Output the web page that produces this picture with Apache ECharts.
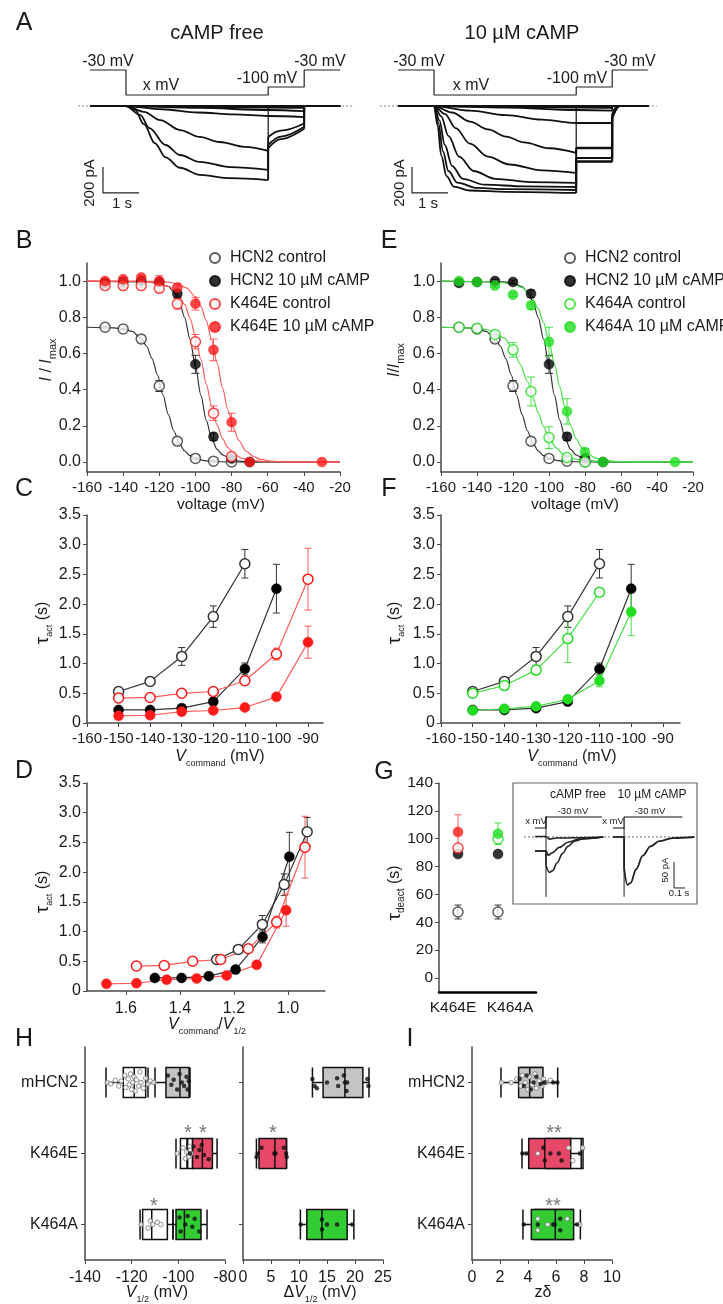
<!DOCTYPE html>
<html><head><meta charset="utf-8">
<script src="https://cdn.jsdelivr.net/npm/echarts@6/dist/echarts.min.js"></script>
<style>html,body{margin:0;padding:0;background:#fff}#c{width:723px;height:1304px}</style>
</head><body><div id="c"></div>
<script>
const FONT = 'Arial, "Liberation Sans", Helvetica, sans-serif';
const TXT = '#1a1a1a', AXC = '#4a4a4a';
const RED = '#ff1a1a', RED_L = '#ff5a5a', GREEN = '#22dd22', GREEN_L = '#44e044', BLK = '#000', BLK_L = '#333';
const BOX_RED = '#e84868', BOX_GREEN = '#33cc33', BOX_GRAY = '#c4c4c4';

// ---------- Panel A (time s, current pA) ----------
const aFreeTraces = [
  [[0,0],[1,0],[1.25,-30],[1.5,-140],[1.8,-285],[2.1,-395],[2.5,-475],[3.05,-530],[3.9,-555],[4.95,-570],[4.95,-325],[5.3,-255],[5.95,-175],[5.95,0],[6.95,0]],
  [[0,0],[1,0],[1.4,-70],[1.65,-170],[2.1,-300],[2.5,-377],[3.05,-430],[3.9,-470],[4.95,-492],[4.95,-300],[5.3,-235],[5.95,-160],[5.95,0],[6.95,0]],
  [[0,0],[1,0],[1.5,-45],[1.95,-108],[2.5,-185],[3.05,-238],[3.6,-277],[4.3,-315],[4.95,-346],[4.95,-238],[5.3,-190],[5.95,-135],[5.95,0],[6.95,0]],
  [[0,0],[1,0],[2,-25],[3,-50],[4,-65],[4.95,-77],[5.95,-85],[5.95,0],[6.95,0]],
  [[0,0],[1,0],[3,-15],[4.95,-31],[5.95,-40],[5.95,0],[6.95,0]],
  [[0,0],[1,0],[4.95,-12],[5.95,-15],[5.95,0],[6.95,0]],
  [[0,0],[6.95,0]]
];
const aFreeArtifact = [[4.95,0],[4.95,-570]];
const aCampTraces = [
  [[0,0],[1,0],[1.1,-150],[1.2,-380],[1.35,-540],[1.55,-620],[2,-650],[3,-660],[4.95,-669],[4.95,-430],[5.95,-430],[5.95,-90],[6.15,0],[6.95,0]],
  [[0,0],[1,0],[1.12,-130],[1.25,-350],[1.4,-500],[1.65,-590],[2.2,-630],[3,-640],[4.95,-646],[4.95,-425],[5.95,-425],[5.95,-90],[6.15,0],[6.95,0]],
  [[0,0],[1,0],[1.15,-110],[1.3,-300],[1.5,-460],[1.8,-560],[2.4,-605],[3.5,-618],[4.95,-623],[4.95,-400],[5.95,-400],[5.95,-85],[6.15,0],[6.95,0]],
  [[0,0],[1,0],[1.2,-80],[1.4,-230],[1.7,-390],[2.1,-500],[2.7,-560],[3.7,-585],[4.95,-592],[4.95,-400],[5.95,-400],[5.95,-85],[6.15,0],[6.95,0]],
  [[0,0],[1,0],[1.3,-60],[1.6,-170],[2.0,-290],[2.5,-390],[3.1,-450],[4,-495],[4.95,-515],[4.95,-325],[5.95,-325],[5.95,-75],[6.15,0],[6.95,0]],
  [[0,0],[1,0],[1.5,-50],[2,-120],[2.5,-180],[3,-235],[3.5,-280],[4.2,-325],[4.95,-361],[4.95,-320],[5.95,-320],[5.95,-75],[6.15,0],[6.95,0]],
  [[0,0],[1,0],[2,-35],[3,-70],[4,-105],[4.95,-131],[5.95,-131],[5.95,-60],[6.1,0],[6.95,0]],
  [[0,0],[1,0],[3,-12],[4.95,-31],[5.95,-35],[5.95,0],[6.95,0]],
  [[0,0],[1,0],[4.95,-12],[5.95,-15],[5.95,0],[6.95,0]],
  [[0,0],[6.95,0]]
];
const aCampArtifact = [[4.95,0],[4.95,-669]];
const protoT = [0,1,1,4.95,4.95,5.95,5.95,6.95];
const protoMV = [-30,-30,-133,-133,-100,-100,-30,-30];
const aFreeBaseline = [[-0.33,0],[7.3,0]];
const aCampBaseline = [[-0.5,0],[7.19,0]];
const aFreeScale = [[0.361,-469],[0.361,-669],[1.361,-669]];
const aCampScale = [[0.389,-469],[0.389,-669],[1.389,-669]];

// ---------- Panels B / E : I/Imax ----------
const ticksVolt = [-160,-140,-120,-100,-80,-60,-40,-20];
const ticksInorm = [0,0.2,0.4,0.6,0.8,1.0];
const actV_hcn2Ctrl = [-150,-140,-130,-120,-110,-100,-90,-80];
const act_hcn2Ctrl = [0.745,0.735,0.68,0.42,0.115,0.02,0.005,0.0];
const actErr_hcn2Ctrl = [0.005,0.005,0.02,0.03,0.02,0.006,0.005,0];
const actV_hcn2Camp = [-150,-140,-130,-120,-110,-100,-90,-80,-70];
const act_hcn2Camp = [0.99,0.995,1.0,0.995,0.93,0.54,0.14,0.02,0.0];
const actErr_hcn2Camp = [0.01,0.01,0.01,0.01,0.02,0.05,0.02,0.01,0];
const actV_eCtrl = [-150,-140,-130,-120,-110,-100,-90,-80];
const act_eCtrl = [0.975,0.975,0.975,0.96,0.875,0.665,0.27,0.03];
const actErr_eCtrl = [0.01,0.01,0.01,0.02,0.03,0.04,0.04,0.02];
const actV_eCamp = [-150,-140,-130,-120,-110,-100,-90,-80,-70,-30];
const act_eCamp = [1.0,1.01,1.02,1.0,0.965,0.875,0.62,0.22,0.0,0.0];
const actErr_eCamp = [0.01,0.01,0.01,0.03,0.02,0.035,0.06,0.05,0,0];
const actV_aCtrl = [-150,-140,-130,-120,-110,-100,-90,-80];
const act_aCtrl = [0.745,0.74,0.705,0.62,0.39,0.135,0.025,0.0];
const actErr_aCtrl = [0.01,0.01,0.02,0.04,0.08,0.06,0.01,0];
const actV_aCamp = [-150,-140,-130,-120,-110,-100,-90,-80,-70,-30];
const act_aCamp = [1.0,0.995,0.975,0.925,0.865,0.665,0.28,0.055,0.0,0.0];
const actErr_aCamp = [0.01,0.01,0.01,0.01,0.02,0.08,0.07,0.02,0,0];
// fitted curves
const fitV_hcn2Ctrl = [-160,-145,-140,-135,-130,-127,-124,-121,-118,-115,-112,-109,-106,-103,-100,-95,-90,-80,-20];
const fit_hcn2Ctrl = [0.745,0.742,0.736,0.722,0.682,0.64,0.572,0.482,0.372,0.263,0.173,0.105,0.062,0.035,0.02,0.0075,0.003,0.0004,0];
const fitV_hcn2Camp = [-160,-125,-120,-115,-112,-109,-106,-103,-100,-97,-94,-91,-88,-85,-80,-75,-70,-20];
const fit_hcn2Camp = [1.0,0.996,0.99,0.97,0.94,0.89,0.80,0.68,0.53,0.37,0.23,0.13,0.07,0.04,0.013,0.004,0.001,0];
const fitV_eCtrl = [-160,-130,-120,-115,-110,-106,-103,-100,-97,-94,-91,-88,-85,-82,-78,-74,-70,-60,-20];
const fit_eCtrl = [1.0,0.998,0.988,0.972,0.933,0.871,0.796,0.694,0.568,0.432,0.306,0.204,0.129,0.079,0.04,0.02,0.0096,0.0016,0];
const fitV_eCamp = [-160,-125,-115,-110,-105,-100,-97,-94,-91,-88,-85,-82,-79,-76,-72,-68,-64,-58,-50,-20];
const fit_eCamp = [1.0,0.999,0.994,0.985,0.963,0.914,0.86,0.781,0.674,0.545,0.41,0.287,0.189,0.119,0.061,0.031,0.015,0.005,0.001,0];
const fitV_aCtrl = [-160,-145,-140,-135,-130,-125,-120,-116,-112,-109,-106,-103,-100,-96,-92,-88,-84,-78,-70,-20];
const fit_aCtrl = [0.745,0.742,0.739,0.732,0.716,0.686,0.628,0.54,0.445,0.358,0.272,0.196,0.134,0.078,0.044,0.024,0.013,0.005,0.0014,0];
const fitV_aCamp = [-160,-130,-120,-115,-110,-106,-103,-100,-97,-94,-91,-88,-85,-82,-78,-74,-70,-62,-50,-20];
const fit_aCamp = [1.0,0.997,0.984,0.964,0.918,0.848,0.77,0.666,0.543,0.415,0.297,0.201,0.13,0.082,0.043,0.022,0.011,0.003,0.0004,0];

// ---------- Panels C / F : tau_act vs Vcommand ----------
const ticksVcmd = [-160,-150,-140,-130,-120,-110,-100,-90];
const ticksTau = [0,0.5,1,1.5,2,2.5,3,3.5];
const tauV_hcn2Ctrl = [-150,-140,-130,-120,-110];
const tau_hcn2Ctrl = [0.53,0.70,1.12,1.79,2.68];
const tauErr_hcn2Ctrl = [0.03,0.03,0.15,0.18,0.24];
const tauV_hcn2Camp = [-150,-140,-130,-120,-110,-100];
const tau_hcn2Camp = [0.22,0.22,0.25,0.36,0.91,2.26];
const tauErr_hcn2Camp = [0.02,0.02,0.02,0.03,0.1,0.41];
const tauV_eCtrl = [-150,-140,-130,-120,-110,-100,-90];
const tau_eCtrl = [0.42,0.43,0.50,0.53,0.71,1.16,2.42];
const tauErr_eCtrl = [0.02,0.02,0.02,0.03,0.04,0.1,0.52];
const tauV_eCamp = [-150,-140,-130,-120,-110,-100,-90];
const tau_eCamp = [0.12,0.13,0.19,0.21,0.26,0.44,1.36];
const tauErr_eCamp = [0.01,0.01,0.02,0.02,0.03,0.04,0.27];
const tauV_aCtrl = [-150,-140,-130,-120,-110];
const tau_aCtrl = [0.50,0.63,0.89,1.42,2.20];
const tauErr_aCtrl = [0.03,0.03,0.05,0.4,0.05];
const tauV_aCamp = [-150,-140,-130,-120,-110,-100];
const tau_aCamp = [0.21,0.24,0.28,0.40,0.71,1.87];
const tauErr_aCamp = [0.02,0.02,0.02,0.03,0.1,0.4];

// ---------- Panel D : tau vs Vcommand/V1/2 ----------
const ticksRatio = [1.0,1.2,1.4,1.6];
const ratio_hcn2Ctrl = [1.264,1.184,1.095,1.014,0.929];
const ratio_hcn2Camp = [1.493,1.394,1.293,1.194,1.094,0.995];
const ratio_eCtrl = [1.561,1.458,1.353,1.249,1.147,1.042,0.937];
const ratio_eCamp = [1.672,1.561,1.449,1.338,1.227,1.116,1.007];

// ---------- Panel G : tau_deact ----------
const ticksTauDeact = [0,20,40,60,80,100,120,140];
const gCats = ['K464E','K464A'];
const gPos = [1,2];
const gHcn2Ctrl = [47.4,47.4], gHcn2CtrlErr = [5,5];
const gHcn2Camp = [89,89], gHcn2CampErr = [1.5,1.5];
const gMutCtrl = [93.3,99.8], gMutCtrlErr = [3,4];
const gMutCamp = [104.8,103.6], gMutCampErr = [12.4,7.7];
// inset traces (s, pA) and protocol (mV)
const insetFreeTraces = [
  [[0.2,-27],[0.3,-27],[0.3,-55],[0.33,-68],[0.36,-65],[0.4,-50],[0.45,-32],[0.5,-18],[0.56,-8],[0.65,-3],[0.82,0]],
  [[0.2,-27],[0.3,-27],[0.32,-35],[0.36,-30],[0.42,-20],[0.5,-10],[0.6,-4],[0.82,0]],
  [[0.2,1],[0.3,1],[0.33,-4],[0.4,-2],[0.82,0]]
];
const insetCampTrace = [[0.91,0],[1.01,0],[1.01,-60],[1.04,-92],[1.07,-88],[1.12,-62],[1.18,-36],[1.25,-18],[1.33,-8],[1.45,-2],[1.65,0]];
const insetArtifacts = [[[0.3,40],[0.3,-115]],[[1.01,19],[1.01,-115]]];
const insetProtoFree = [[0.2,-130],[0.3,-130],[0.3,-30],[0.81,-30]];
const insetProtoCamp = [[0.91,-130],[1.01,-130],[1.01,-30],[1.54,-30]];
const insetBaseline = [[0.1,0],[1.655,0]];
const insetScale = [[1.464,-48],[1.464,-98],[1.564,-98]];

// ---------- Panels H / I : box plots ----------
const boxCats = ['K464A','K464E','mHCN2'];   // bottom -> top
const ticksV12 = [-140,-120,-100,-80];
const ticksDV = [0,5,10,15,20,25];
const ticksZ = [0,2,4,6,8,10];
// [min, Q1, median, Q3, max]
const v12Ctrl = [[-116.4,-115.3,-111.4,-104.7,-102.3],[-101,-99.1,-96.3,-93.9,-92],[-131,-123.6,-118.9,-114,-110]];
const v12Camp = [[-102.3,-101,-97.4,-90.3,-87.7],[-96,-93.9,-89.7,-85.4,-83.4],[-113,-105.3,-99.3,-95.4,-95]];
const dV12 = [[10.25,11.4,14.1,18.6,19.8],[2.4,2.86,5.7,7.75,7.8],[12.4,14.3,18.2,21.4,22.5]];
const zdCtrl = [[4.3,4.5,5.5,7.2,7.2],[4.7,5.3,6.9,7.93,7.93],[3.4,3.5,4.1,5.0,5.0]];
const zdCamp = [[3.64,4.24,5.95,7.26,7.74],[3.57,4.05,5.2,7.05,7.8],[2.07,3.33,4.12,5.07,6.12]];
// individual cells: [value, row position (0=K464A,1=K464E,2=mHCN2)]
const v12CtrlPts = [[-130.5,2.0],[-129,1.98],[-127,2.03],[-125.5,1.95],[-124.5,2.02],[-123,2.1],[-122.5,1.93],[-121.5,2.05],[-121,1.97],[-120.5,2.12],[-120,1.9],[-119.5,2.0],[-119,2.08],[-118.5,1.88],[-118,2.04],[-117,1.95],[-116.5,2.15],[-116,2.0],[-115,1.92],[-114,2.06],[-113,1.98],[-112,2.02],[-110.5,2.0],
  [-100.5,1.0],[-98,1.08],[-97,0.93],[-96.5,1.02],[-95.5,0.96],[-95,1.1],[-94.5,1.0],
  [-116,0.0],[-113,-0.05],[-112,0.05],[-111,0.0],[-109,0.03],[-107.5,0.0]];
const v12CampPts = [[-104.5,2.1],[-103,1.97],[-102,2.04],[-100.5,1.9],[-99.5,2.12],[-98.5,2.0],[-97.5,1.95],[-96.5,2.08],[-96,1.9],[-95.5,2.02],
  [-95,1.0],[-93.5,1.1],[-92,0.95],[-91,1.05],[-90,1.12],[-89,0.98],[-87,0.92],
  [-99.5,0.1],[-99,-0.1],[-97,0.0],[-96,0.12],[-94,-0.03],[-93,0.08],[-91,-0.1]];
const dV12Pts = [[12.4,2.05],[12.8,1.95],[13.2,1.92],[15,2.0],[16.8,2.06],[17,1.95],[18,2.1],[18.2,2.0],[18.5,1.88],[18.6,2.0],[22.2,2.05],[22.4,1.95],
  [2.4,0.95],[2.6,1.0],[3.3,1.08],[5.6,1.0],[5.8,1.0],[7.3,1.08],[7.7,1.0],[7.8,0.95],
  [10.3,0.0],[14.1,0.07],[14.1,-0.07],[15.0,0.0],[16.8,0.0],[19.5,0.0]];
const zdCtrlPts = [[2.1,2.0],[2.8,2.0],[3.2,2.05],[3.5,1.95],[3.6,2.1],[3.8,2.0],[4.0,1.9],[4.1,2.08],[4.3,1.97],[4.5,2.12],[4.6,1.92],[4.8,2.02],[5.0,1.95],[5.1,2.05],[5.3,2.0],[5.6,2.03],
  [4.7,1.0],[6.9,1.08],[7.2,0.9],[7.9,1.08],
  [4.7,0.08],[4.7,-0.08],[5.4,0.0],[6.8,0.08],[7.7,0.0]];
const zdCampPts = [[3.4,2.05],[3.7,1.95],[3.9,2.1],[4.2,1.9],[4.4,2.0],[4.6,2.08],[4.9,1.98],[5.2,2.0],[5.8,2.0],[6.1,2.0],
  [3.6,1.0],[3.9,1.0],[5.1,1.08],[5.2,0.9],[5.6,1.0],[6.2,1.0],[6.4,0.9],[7.7,1.0],
  [3.7,0.0],[4.7,0.0],[5.8,0.0],[5.9,0.0],[6.3,0.08],[6.3,-0.08],[7.5,0.0]];

// ================= build =================
const grids = [], xAxes = [], yAxes = [], series = [], graphics = [];
const G = {};
function grid(name, l, t, w, h, extra) {
  G[name] = grids.length;
  grids.push(Object.assign({left: l, top: t, width: w, height: h, containLabel: false, outerBoundsMode: 'none'}, extra || {}));
}
function add(arr, o) { arr.push(o); return arr.length - 1; }
function hidden(gi, min, max, extra) { return Object.assign({type: 'value', gridIndex: gi, min, max, show: false}, extra || {}); }
function vAxis(gi, min, max, ticks, fmt, size, margin, extra) {
  return Object.assign({
    type: 'value', gridIndex: gi, min, max, splitLine: {show: false},
    axisLine: {show: true, onZero: false, lineStyle: {color: AXC, width: 1.5}},
    axisTick: {show: true, customValues: ticks, length: 4, lineStyle: {color: AXC, width: 1}},
    axisLabel: {show: true, customValues: ticks, formatter: fmt, color: TXT, fontSize: size, fontFamily: FONT, margin}
  }, extra || {});
}
const f1 = v => v.toFixed(1);
const fTau = v => v === 0 ? '0' : v.toFixed(1);
const pairs = (xs, ys) => xs.map((x, i) => [x, ys[i]]);
const errs = (xs, ys, es) => xs.map((x, i) => [x, ys[i] - es[i], ys[i] + es[i], es[i]]).filter(d => d[3] > 0);

function errSeries(xi, yi, data, color, cap) {
  return {
    type: 'custom', xAxisIndex: xi, yAxisIndex: yi, data, silent: true, z: 3,
    itemStyle: {color}, encode: {x: 0, y: [1, 2]},
    renderItem: (p, api) => {
      const x = api.value(0);
      const lo = api.coord([x, api.value(1)]), hi = api.coord([x, api.value(2)]);
      const st = {stroke: color, lineWidth: 1};
      return {type: 'group', children: [
        {type: 'line', shape: {x1: lo[0], y1: lo[1], x2: hi[0], y2: hi[1]}, style: st},
        {type: 'line', shape: {x1: lo[0] - cap, y1: lo[1], x2: lo[0] + cap, y2: lo[1]}, style: st},
        {type: 'line', shape: {x1: hi[0] - cap, y1: hi[1], x2: hi[0] + cap, y2: hi[1]}, style: st}
      ]};
    }
  };
}
function pts(name, xi, yi, data, color, open, size, z) {
  return {type: 'scatter', name, xAxisIndex: xi, yAxisIndex: yi, data, symbol: 'circle', symbolSize: size || 10, z: z || 5,
    itemStyle: open ? {color: '#fff', borderColor: color, borderWidth: 1.5} : {color: color, borderColor: color, borderWidth: 0.5}};
}
function curve(xi, yi, data, color, width, extra) {
  return Object.assign({type: 'line', xAxisIndex: xi, yAxisIndex: yi, data, showSymbol: false, symbol: 'none', silent: true,
    lineStyle: {color, width: width || 1.2}, z: 2}, extra || {});
}
function linePts(xi, yi, data, color, lineColor, open) {
  return {type: 'line', xAxisIndex: xi, yAxisIndex: yi, data, symbol: 'circle', symbolSize: 10, showSymbol: true, z: 4,
    lineStyle: {color: lineColor, width: 1.2},
    itemStyle: open ? {color: '#fff', borderColor: color, borderWidth: 1.5} : {color, borderColor: color, borderWidth: 0.5}};
}
function splitSegments(arr) {
  const segs = []; let cur = [arr[0]];
  for (let i = 1; i < arr.length; i++) {
    if (arr[i][0] === arr[i - 1][0]) { if (cur.length > 1) segs.push(cur); segs.push([arr[i - 1], arr[i]]); cur = [arr[i]]; }
    else cur.push(arr[i]);
  }
  if (cur.length > 1) segs.push(cur);
  return segs;
}
function traceSeries(xi, yi, arr, color, width) {
  splitSegments(arr).forEach(seg => series.push(curve(xi, yi, seg, color, width, {smooth: seg.length > 2 ? 0.35 : false, smoothMonotone: 'x'})));
}

// ---- A ----
grid('AL', 78, 50, 275, 160); grid('AR', 380, 50, 277, 160);
const xAL = add(xAxes, hidden(G.AL, -0.333, 7.306));
const yALi = add(yAxes, hidden(G.AL, -800, 430.6));
const yALv = add(yAxes, hidden(G.AL, -606.5, 52.4));
const xAR = add(xAxes, hidden(G.AR, -0.5, 7.194));
const yARi = add(yAxes, hidden(G.AR, -800, 430.6));
const yARv = add(yAxes, hidden(G.AR, -606.5, 52.4));
[[xAL, yALi, yALv, aFreeTraces, aFreeArtifact, aFreeBaseline, aFreeScale],
 [xAR, yARi, yARv, aCampTraces, aCampArtifact, aCampBaseline, aCampScale]].forEach(([xi, yi, yv, trs, art, base, sc]) => {
  series.push(curve(xi, yi, base, '#888', 1, {lineStyle: {color: '#888', width: 1, type: [2, 2]}, z: 1}));
  trs.forEach(tr => traceSeries(xi, yi, tr, '#111', 1.8));
  series.push(curve(xi, yi, art, '#111', 1.2));
  series.push(curve(xi, yv, pairs(protoT, protoMV), '#222', 1.2));
  series.push(curve(xi, yi, sc, '#222', 1.2));
});

// ---- B and E ----
grid('B', 87, 263, 253, 209); grid('E', 441, 263, 252, 209);
const xB = add(xAxes, vAxis(G.B, -160, -20, ticksVolt, String, 15, 8));
const yB = add(yAxes, vAxis(G.B, -0.055, 1.1, ticksInorm, f1, 16, 6));
const xE = add(xAxes, vAxis(G.E, -160, -20, ticksVolt, String, 15, 8));
const yE = add(yAxes, vAxis(G.E, -0.055, 1.1, ticksInorm, f1, 16, 6));
function actPanel(xi, yi, mutCtrlV, mutCtrl, mutCtrlE, mutCampV, mutCamp, mutCampE, fitCtrlV, fitCtrl, fitCampV, fitCamp, col, colL, names) {
  series.push(curve(xi, yi, pairs(fitV_hcn2Ctrl, fit_hcn2Ctrl), BLK_L, 1.2, {smooth: 0.3, smoothMonotone: 'x'}));
  series.push(curve(xi, yi, pairs(fitV_hcn2Camp, fit_hcn2Camp), BLK_L, 1.2, {smooth: 0.3, smoothMonotone: 'x'}));
  series.push(curve(xi, yi, pairs(fitCtrlV, fitCtrl), colL, 1.2, {smooth: 0.3, smoothMonotone: 'x'}));
  series.push(curve(xi, yi, pairs(fitCampV, fitCamp), colL, 1.2, {smooth: 0.3, smoothMonotone: 'x'}));
  series.push(errSeries(xi, yi, errs(actV_hcn2Ctrl, act_hcn2Ctrl, actErr_hcn2Ctrl), BLK_L, 4));
  series.push(errSeries(xi, yi, errs(actV_hcn2Camp, act_hcn2Camp, actErr_hcn2Camp), BLK_L, 4));
  series.push(errSeries(xi, yi, errs(mutCtrlV, mutCtrl, mutCtrlE), colL, 4));
  series.push(errSeries(xi, yi, errs(mutCampV, mutCamp, mutCampE), colL, 4));
  series.push(pts(names[0], xi, yi, pairs(actV_hcn2Ctrl, act_hcn2Ctrl), '#333', true, 10, 5));
  series.push(pts(names[1], xi, yi, pairs(actV_hcn2Camp, act_hcn2Camp), BLK, false, 10, 6));
  series.push(pts(names[2], xi, yi, pairs(mutCtrlV, mutCtrl), col, true, 10, 7));
  series.push(pts(names[3], xi, yi, pairs(mutCampV, mutCamp), col, false, 10, 8));
}
actPanel(xB, yB, actV_eCtrl, act_eCtrl, actErr_eCtrl, actV_eCamp, act_eCamp, actErr_eCamp, fitV_eCtrl, fit_eCtrl, fitV_eCamp, fit_eCamp, RED, RED_L,
  ['HCN2 control', 'HCN2 10 µM cAMP', 'K464E control', 'K464E 10 µM cAMP']);
actPanel(xE, yE, actV_aCtrl, act_aCtrl, actErr_aCtrl, actV_aCamp, act_aCamp, actErr_aCamp, fitV_aCtrl, fit_aCtrl, fitV_aCamp, fit_aCamp, GREEN, GREEN_L,
  ['HCN2 control', 'HCN2 10 µM cAMP', 'K464A control', 'K464A 10 µM cAMP']);

// ---- C and F ----
grid('C', 87, 515, 236, 208); grid('F', 441, 515, 239, 208);
const xC = add(xAxes, vAxis(G.C, -160, -85.25, ticksVcmd, String, 15, 8));
const yC = add(yAxes, vAxis(G.C, 0, 3.5, ticksTau, fTau, 16, 6));
const xF = add(xAxes, vAxis(G.F, -160, -84.6, ticksVcmd, String, 15, 8));
const yF = add(yAxes, vAxis(G.F, 0, 3.5, ticksTau, fTau, 16, 6));
function tauPanel(xi, yi, sets) {
  sets.forEach(s => series.push(errSeries(xi, yi, errs(s.x, s.y, s.e), s.lc, 3.5)));
  sets.forEach(s => series.push(linePts(xi, yi, pairs(s.x, s.y), s.c, s.lc, s.open)));
}
const setHC = {x: tauV_hcn2Ctrl, y: tau_hcn2Ctrl, e: tauErr_hcn2Ctrl, c: '#333', lc: BLK_L, open: true};
const setHA = {x: tauV_hcn2Camp, y: tau_hcn2Camp, e: tauErr_hcn2Camp, c: BLK, lc: BLK_L, open: false};
tauPanel(xC, yC, [setHC, setHA,
  {x: tauV_eCtrl, y: tau_eCtrl, e: tauErr_eCtrl, c: RED, lc: RED_L, open: true},
  {x: tauV_eCamp, y: tau_eCamp, e: tauErr_eCamp, c: RED, lc: RED_L, open: false}]);
tauPanel(xF, yF, [setHC, setHA,
  {x: tauV_aCtrl, y: tau_aCtrl, e: tauErr_aCtrl, c: GREEN, lc: GREEN_L, open: true},
  {x: tauV_aCamp, y: tau_aCamp, e: tauErr_aCamp, c: GREEN, lc: GREEN_L, open: false}]);

// ---- D ----
grid('D', 87, 783, 238, 208);
const xD = add(xAxes, vAxis(G.D, 0.863, 1.744, ticksRatio, f1, 16, 10, {inverse: true}));
const yD = add(yAxes, vAxis(G.D, 0, 3.5, ticksTau, fTau, 16, 6));
tauPanel(xD, yD, [
  {x: ratio_hcn2Ctrl, y: tau_hcn2Ctrl, e: tauErr_hcn2Ctrl, c: '#333', lc: BLK_L, open: true},
  {x: ratio_hcn2Camp, y: tau_hcn2Camp, e: tauErr_hcn2Camp, c: BLK, lc: BLK_L, open: false},
  {x: ratio_eCtrl, y: tau_eCtrl, e: tauErr_eCtrl, c: RED, lc: RED_L, open: true},
  {x: ratio_eCamp, y: tau_eCamp, e: tauErr_eCamp, c: RED, lc: RED_L, open: false}]);

// ---- G ----
grid('G', 439, 783, 97, 209);
const xG = add(xAxes, {type: 'value', gridIndex: G.G, min: 0.525, max: 2.95, splitLine: {show: false},
  axisLine: {show: true, onZero: false, lineStyle: {color: '#000', width: 2.5}}, axisTick: {show: false}, axisLabel: {show: false}});
const yG = add(yAxes, vAxis(G.G, -10, 140, ticksTauDeact, String, 15.5, 6));
const mutCols = [RED, GREEN], mutColsL = [RED_L, GREEN_L];
series.push(errSeries(xG, yG, errs(gPos, gHcn2Ctrl, gHcn2CtrlErr), BLK_L, 3.5));
series.push(pts('', xG, yG, pairs(gPos, gHcn2Ctrl), '#333', true, 10, 5));
series.push(pts('', xG, yG, pairs(gPos, gHcn2Camp), BLK, false, 10, 6));
[0, 1].forEach(i => {
  series.push(errSeries(xG, yG, [[gPos[i], gMutCamp[i] - gMutCampErr[i], gMutCamp[i] + gMutCampErr[i]]], mutColsL[i], 3.5));
  series.push(pts('', xG, yG, [[gPos[i], gMutCtrl[i]]], mutCols[i], true, 10, 7));
  series.push(pts('', xG, yG, [[gPos[i], gMutCamp[i]]], mutCols[i], false, 10, 8));
});
// inset
grid('Gi', 513, 783, 184, 121, {show: true, borderColor: '#666', borderWidth: 1.2, backgroundColor: 'rgba(0,0,0,0)'});
const xGi = add(xAxes, hidden(G.Gi, 0, 1.673));
const yGi = add(yAxes, hidden(G.Gi, -128.8, 103.8));
const yGv = add(yAxes, hidden(G.Gi, -821, 279));
series.push(curve(xGi, yGi, insetBaseline, '#666', 1, {lineStyle: {color: '#666', width: 1, type: [2, 2]}, z: 1}));
insetFreeTraces.forEach(tr => traceSeries(xGi, yGi, tr, '#222', 1.6));
traceSeries(xGi, yGi, insetCampTrace, '#222', 1.8);
insetArtifacts.forEach(a => series.push(curve(xGi, yGi, a, '#222', 1)));
series.push(curve(xGi, yGv, insetProtoFree, '#111', 1.2));
series.push(curve(xGi, yGv, insetProtoCamp, '#111', 1.2));
series.push(curve(xGi, yGi, insetScale, '#222', 1));

// ---- H and I ----
grid('H1', 85, 1047, 140, 213); grid('H2', 243, 1047, 140, 213); grid('I', 472, 1047, 140, 213);
function catAxis(gi, showLabels, show) {
  return {type: 'category', gridIndex: gi, data: boxCats, show: show !== false, boundaryGap: true,
    axisLine: {show: true, lineStyle: {color: AXC, width: 1.5}},
    axisTick: {show: true, alignWithLabel: true, length: 4, lineStyle: {color: AXC}},
    axisLabel: {show: showLabels, color: TXT, fontSize: 16, fontFamily: FONT, margin: 7}, splitLine: {show: false}};
}
const xH1 = add(xAxes, vAxis(G.H1, -140, -80, ticksV12, String, 16, 10));
const yH1a = add(yAxes, catAxis(G.H1, true));
const yH1b = add(yAxes, catAxis(G.H1, false, false));
const yH1v = add(yAxes, hidden(G.H1, -0.5, 2.5));
const xH2 = add(xAxes, vAxis(G.H2, 0, 25, ticksDV, String, 16, 10));
const yH2a = add(yAxes, catAxis(G.H2, false));
const yH2v = add(yAxes, hidden(G.H2, -0.5, 2.5));
const xI = add(xAxes, vAxis(G.I, 0, 10, ticksZ, String, 16, 10));
const yIa = add(yAxes, catAxis(G.I, true));
const yIb = add(yAxes, catAxis(G.I, false, false));
const yIv = add(yAxes, hidden(G.I, -0.5, 2.5));
const campCols = [BOX_GREEN, BOX_RED, BOX_GRAY];
function boxS(xi, yi, data, colors, z) {
  return {type: 'boxplot', xAxisIndex: xi, yAxisIndex: yi, boxWidth: [30, 30], z: z || 2,
    data: data.map((d, i) => ({value: d, itemStyle: {color: colors[i], borderColor: '#111', borderWidth: 1.5}})),
    itemStyle: {borderColor: '#111', borderWidth: 1.5}};
}
function dots(xi, yi, data, open) {
  return {type: 'scatter', xAxisIndex: xi, yAxisIndex: yi, data, symbol: 'circle', symbolSize: 4.5, z: 6, silent: true,
    itemStyle: open ? {color: '#fff', borderColor: '#777', borderWidth: 1} : {color: '#111'}};
}
series.push(boxS(xH1, yH1a, v12Ctrl, ['#fff', '#fff', '#fff'], 2));
series.push(boxS(xH1, yH1b, v12Camp, campCols, 3));
series.push(dots(xH1, yH1v, v12CtrlPts, true));
series.push(dots(xH1, yH1v, v12CampPts, false));
series.push(boxS(xH2, yH2a, dV12, campCols, 2));
series.push(dots(xH2, yH2v, dV12Pts, false));
series.push(boxS(xI, yIa, zdCtrl, ['#fff', '#fff', '#fff'], 2));
series.push(boxS(xI, yIb, zdCamp, campCols, 3));
series.push(dots(xI, yIv, zdCtrlPts, true));
series.push(dots(xI, yIv, zdCampPts, false));

// ---------- text ----------
function T(text, x, y, size, o) {
  o = o || {};
  return {type: 'text', x, y, rotation: o.rot || 0, z: 100, silent: true,
    style: {text, fontSize: size, fontFamily: FONT, fill: o.color || TXT, fontStyle: o.italic ? 'italic' : 'normal',
      align: o.align || 'center', verticalAlign: 'middle', textAlign: o.align || 'center', textVerticalAlign: 'middle',
      lineHeight: o.lh || size + 4, rich: o.rich}};
}
function rich(size, sub) {
  return {
    it: {fontStyle: 'italic', fontSize: size, fontFamily: FONT, fill: TXT},
    n: {fontSize: size, fontFamily: FONT, fill: TXT},
    tau: {fontSize: size + 3, fontFamily: FONT, fill: TXT},
    s: {fontSize: sub, fontFamily: FONT, fill: TXT, verticalAlign: 'bottom', lineHeight: sub + 1}
  };
}
const R = Math.PI / 2;
[['A', 24, 23], ['B', 24, 241], ['C', 24, 489], ['D', 24, 771], ['E', 389, 241], ['F', 389, 489], ['G', 384, 772], ['H', 24, 1039], ['I', 410, 1039]]
  .forEach(([t, x, y]) => graphics.push(T(t, x, y, 25)));
graphics.push(T('cAMP free', 217, 33, 20), T('10 µM cAMP', 522, 33, 20));
[['-30 mV', 108, 62], ['x mV', 161, 86], ['-100 mV', 267, 79], ['-30 mV', 320, 62],
 ['-30 mV', 419, 62], ['x mV', 471, 86], ['-100 mV', 577, 79], ['-30 mV', 630, 62]].forEach(([t, x, y]) => graphics.push(T(t, x, y, 16)));
graphics.push(T('200 pA', 90, 183, 15, {rot: R}), T('1 s', 122, 204, 15), T('200 pA', 400, 183, 15, {rot: R}), T('1 s', 428, 204, 15));
graphics.push(T('voltage (mV)', 221, 505, 15.5), T('voltage (mV)', 575, 505, 15.5));
graphics.push(T('{it|I} / {it|I}{s|max}', 47, 360, 16, {rot: R, rich: rich(16, 11), lh: 22}));
graphics.push(T('{it|I}/{it|I}{s|max}', 395, 360, 16, {rot: R, rich: rich(16, 11), lh: 22}));
graphics.push(T('{tau|τ}{s|act}{n| (s)}', 43, 623, 16, {rot: R, rich: rich(16, 9), lh: 22}));
graphics.push(T('{tau|τ}{s|act}{n| (s)}', 395, 623, 16, {rot: R, rich: rich(16, 9), lh: 22}));
graphics.push(T('{tau|τ}{s|act}{n| (s)}', 43, 892, 16, {rot: R, rich: rich(16, 9), lh: 22}));
graphics.push(T('{tau|τ}{s|deact}{n| (s)}', 395, 893, 16, {rot: R, rich: rich(16, 10), lh: 22}));
graphics.push(T('{it|V}{s|command}{n| (mV)}', 220, 757, 16, {rich: rich(16, 9), lh: 22}));
graphics.push(T('{it|V}{s|command}{n| (mV)}', 572, 757, 16, {rich: rich(16, 9), lh: 22}));
graphics.push(T('{it|V}{s|command}{n|/}{it|V}{s|1/2}', 207, 1025, 16, {rich: rich(16, 9), lh: 22}));
graphics.push(T('{it|V}{s|1/2}{n| (mV)}', 157, 1293, 16, {rich: rich(16, 9), lh: 22}));
graphics.push(T('{n|Δ}{it|V}{s|1/2}{n| (mV)}', 320, 1293, 16, {rich: rich(16, 9), lh: 22}));
graphics.push(T('zδ', 543, 1293, 16));
// category labels of panel G
graphics.push(T(gCats[0], 453, 1008, 15.5), T(gCats[1], 510, 1008, 15.5));
// inset text
graphics.push(T('cAMP free', 578, 795, 12), T('10 µM cAMP', 652, 795, 12));
graphics.push(T('-30 mV', 573, 811, 9.5), T('-30 mV', 650, 811, 9.5), T('x mV', 536, 821, 9.5), T('x mV', 613, 821, 9.5));
graphics.push(T('50 pA', 665, 870, 9.5, {rot: R}), T('0.1 s', 679, 893, 9.5));
// significance marks
[[188, 1133, '*'], [203, 1133, '*'], [154, 1206, '*'], [273, 1133, '*'], [554, 1133, '**'], [553, 1206, '**']]
  .forEach(([x, y, t]) => graphics.push(T(t, x, y, 20, {color: '#777'})));

const legendBase = {orient: 'vertical', top: 245, itemWidth: 20, itemHeight: 10, itemGap: 7, icon: 'circle', selectedMode: false,
  textStyle: {fontSize: 16, fontFamily: FONT, color: TXT, lineHeight: 15}};
const option = {
  animation: false, backgroundColor: '#fff', textStyle: {fontFamily: FONT},
  grid: grids, xAxis: xAxes, yAxis: yAxes, series,
  legend: [
    Object.assign({}, legendBase, {left: 204, data: ['HCN2 control', 'HCN2 10 µM cAMP', 'K464E control', 'K464E 10 µM cAMP']}),
    Object.assign({}, legendBase, {left: 559, data: ['HCN2 control', 'HCN2 10 µM cAMP', 'K464A control', 'K464A 10 µM cAMP']})
  ],
  graphic: {elements: graphics}
};
const chart = echarts.init(document.getElementById('c'), null, {renderer: 'canvas'});
chart.setOption(option);
</script></body></html>
